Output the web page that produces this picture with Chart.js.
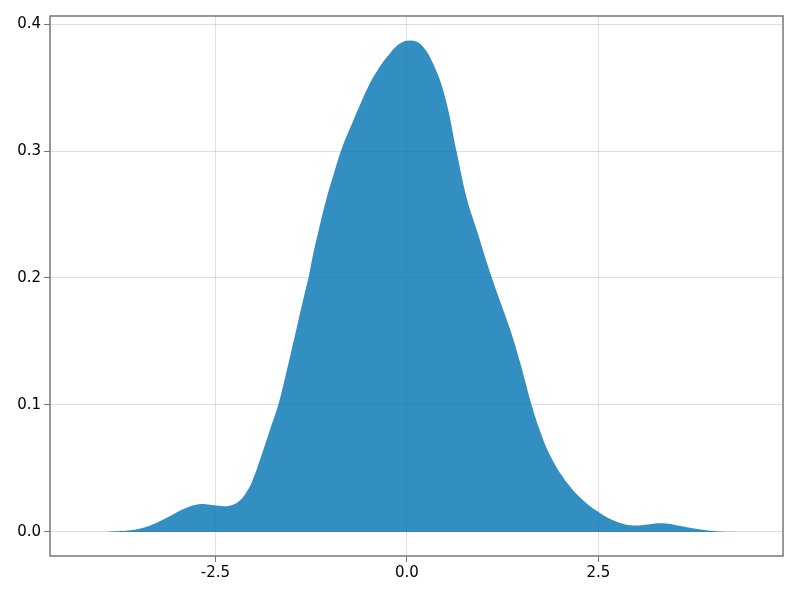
<!DOCTYPE html>
<html>
<head>
<meta charset="utf-8">
<script src="https://cdn.jsdelivr.net/npm/chart.js@4/dist/chart.umd.min.js"></script>
<style>
  html, body { margin: 0; padding: 0; background: #fff; }
  #wrap { width: 800px; height: 600px; }
</style>
</head>
<body>
<div id="wrap"><canvas id="c" width="800" height="600"></canvas></div>
<script>
// density curve
const xs = [-4.3, -4.0, -3.8, -3.58, -3.36, -3.2, -3.05, -2.9, -2.72, -2.53, -2.38, -2.3, -2.2, -2.1, -2.02, -1.897,
  -1.789, -1.68, -1.6, -1.453, -1.354, -1.279, -1.223, -1.158, -1.057, -0.95, -0.85, -0.7, -0.51,
  -0.38, -0.22, -0.08, 0.05, 0.18, 0.34, 0.5, 0.65, 0.78, 0.91, 1.11, 1.35, 1.475, 1.628, 1.736, 1.867,
  2.063, 2.3, 2.52, 2.7, 2.85, 2.98, 3.15, 3.34, 3.5, 3.73, 4.05, 4.3];
const density = [0, 0, 0.0006, 0.0016, 0.005, 0.0092, 0.014, 0.0185, 0.0218, 0.0211, 0.0203, 0.0208, 0.0238, 0.031, 0.040, 0.0606,
  0.0803, 0.100, 0.119, 0.157, 0.183, 0.202, 0.219, 0.236, 0.261, 0.283, 0.302, 0.324, 0.350,
  0.364, 0.377, 0.385, 0.387, 0.384, 0.369, 0.342, 0.299, 0.263, 0.238, 0.200, 0.159, 0.134, 0.100, 0.080, 0.0606,
  0.041, 0.025, 0.015, 0.009, 0.006, 0.0052, 0.006, 0.0068, 0.0055, 0.003, 0.0005, 0];
const xTicks = [-2.5, 0, 2.5];
const yTicks = [0, 0.1, 0.2, 0.3, 0.4];

const points = xs.map((x, i) => ({ x: x, y: density[i] }));

const frameColor = '#777777';
const gridColor = 'rgba(0,0,0,0.12)';

const framePlugin = {
  id: 'frame',
  afterDraw(chart) {
    const a = chart.chartArea;
    const ctx = chart.ctx;
    ctx.save();
    ctx.strokeStyle = frameColor;
    ctx.lineWidth = 1.5;
    ctx.strokeRect(a.left, a.top, a.right - a.left, a.bottom - a.top);
    ctx.restore();
  }
};

new Chart(document.getElementById('c'), {
  type: 'line',
  data: {
    datasets: [{
      data: points,
      fill: 'origin',
      backgroundColor: 'rgba(0,114,178,0.8)',
      borderWidth: 0,
      pointRadius: 0,
      tension: 0.4
    }]
  },
  options: {
    responsive: false,
    animation: false,
    layout: { padding: { top: 16, right: 17, left: 0, bottom: 0 } },
    plugins: { legend: { display: false }, tooltip: { enabled: false } },
    scales: {
      x: {
        type: 'linear',
        min: -4.66,
        max: 4.91,
        afterBuildTicks: s => { s.ticks = xTicks.map(v => ({ value: v })); },
        afterFit: s => { s.height = 44; },
        ticks: {
          callback: v => v.toFixed(1),
          color: '#000',
          font: { family: 'DejaVu Sans', size: 15 },
          padding: 2,
          maxRotation: 0
        },
        grid: { color: gridColor, tickColor: frameColor, tickLength: 6, lineWidth: 1 },
        border: { display: false }
      },
      y: {
        min: -0.0189,
        max: 0.4063,
        afterBuildTicks: s => { s.ticks = yTicks.map(v => ({ value: v })); },
        afterFit: s => { s.width = 50; },
        ticks: {
          callback: v => v.toFixed(1),
          color: '#000',
          font: { family: 'DejaVu Sans', size: 15 },
          padding: 3
        },
        grid: { color: gridColor, tickColor: frameColor, tickLength: 6, lineWidth: 1 },
        border: { display: false }
      }
    }
  },
  plugins: [framePlugin]
});
</script>
</body>
</html>
